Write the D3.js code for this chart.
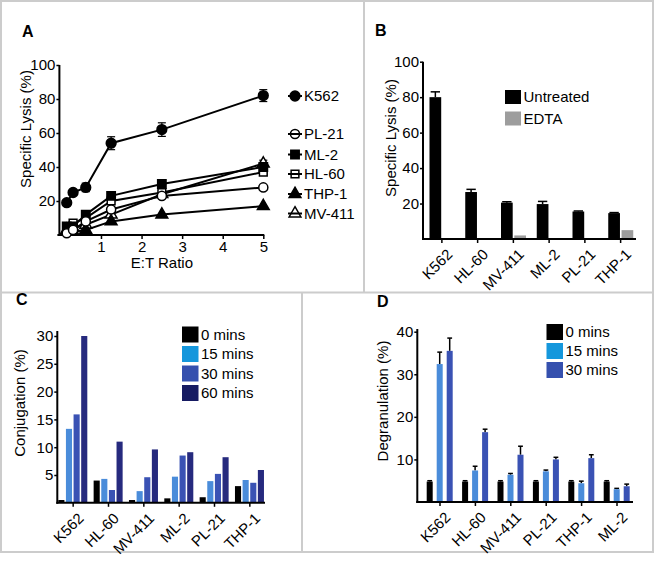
<!DOCTYPE html>
<html>
<head>
<meta charset="utf-8">
<script src="https://cdn.jsdelivr.net/npm/d3@7"></script>
<style>
  html, body { margin: 0; padding: 0; background: #fff; }
  svg { display: block; font-family: "Liberation Sans", Arial, Helvetica, sans-serif; }
</style>
</head>
<body>
<svg id="chart" width="656" height="562"></svg>
<script>
// ---------------- DATA ----------------
// Panel A: specific lysis vs E:T ratio
const etRatios = [0.156, 0.3125, 0.625, 1.25, 2.5, 5];
const lysisSeriesNames = ["K562", "PL-21", "ML-2", "HL-60", "THP-1", "MV-411"];
const lysisK562  = [19, 25, 28, 54, 62, 82];
const lysisPL21  = [1, 3, 8, 15, 23, 28];
const lysisML2   = [5, 5, 12, 23, 30, 40];
const lysisHL60  = [4, 7, 10, 20, 25, 37];
const lysisTHP1  = [3, 2, 3, 8, 12, 17];
const lysisMV411 = [2, 4, 6, 12, 24, 42];
const errK562  = [1, 1.5, 2.5, 3.8, 4, 3.5];
const errPL21  = [0.5, 0.5, 1, 1, 1, 1];
const errML2   = [0.5, 0.5, 1, 1, 1, 1.5];
const errHL60  = [0.5, 0.5, 1, 1, 1, 1];
const errTHP1  = [0.5, 0.5, 0.5, 1, 1, 1];
const errMV411 = [0.5, 0.5, 0.5, 1, 1, 2];
const xTicksA = [1, 2, 3, 4, 5];
const yTicksA = [20, 40, 60, 80, 100];

// Panel B: specific lysis, untreated vs EDTA
const cellLinesB = ["K562", "HL-60", "MV-411", "ML-2", "PL-21", "THP-1"];
const seriesB = ["Untreated", "EDTA"];
const untreatedB = [80, 26.5, 20.5, 19.7, 15.5, 14.6];
const untreatedErrB = [3, 1.5, 0.5, 1.5, 0.3, 0.3];
const edtaB = [0.4, 0, 2, 0, 0, 5];
const edtaErrB = [0, 0, 0, 0, 0, 0];
const yTicksB = [20, 40, 60, 80, 100];

// Panel C: conjugation
const cellLinesC = ["K562", "HL-60", "MV-411", "ML-2", "PL-21", "THP-1"];
const seriesC = ["0 mins", "15 mins", "30 mins", "60 mins"];
const conj0  = [0.5, 4.0, 0.5, 0.8, 1.0, 3.0];
const conj15 = [13.3, 4.3, 2.1, 4.7, 3.9, 4.1];
const conj30 = [15.9, 2.3, 4.6, 8.5, 5.2, 3.6];
const conj60 = [30, 11, 9.6, 9.1, 8.2, 5.9];
const yTicksC = [5, 10, 15, 20, 25, 30];

// Panel D: degranulation
const cellLinesD = ["K562", "HL-60", "MV-411", "PL-21", "THP-1", "ML-2"];
const seriesD = ["0 mins", "15 mins", "30 mins"];
const degr0  = [4.8, 4.8, 4.8, 4.8, 4.8, 4.8];
const degr15 = [32.4, 7.4, 6.4, 7.2, 4.4, 3.0];
const degr30 = [35.5, 16.4, 11.1, 10.0, 10.3, 3.7];
const degrErr0  = [0.2, 0.2, 0.2, 0.2, 0.2, 0.2];
const degrErr15 = [2.8, 1.0, 0.3, 0.3, 0.5, 0.2];
const degrErr30 = [3.0, 0.7, 2.0, 0.5, 0.8, 0.5];
const yTicksD = [10, 20, 30, 40];

// ---------------- DRAWING ----------------
const svg = d3.select("#chart");
const FONT = 15;
const BORDER = "#cccccc";

// panel frames
svg.append("rect").attr("x", 1).attr("y", 1).attr("width", 652).attr("height", 551)
  .attr("fill", "none").attr("stroke", BORDER).attr("stroke-width", 2);
svg.append("line").attr("x1", 0).attr("x2", 654).attr("y1", 292.5).attr("y2", 292.5)
  .attr("stroke", BORDER).attr("stroke-width", 2);
svg.append("line").attr("x1", 364).attr("x2", 364).attr("y1", 0).attr("y2", 292.5)
  .attr("stroke", BORDER).attr("stroke-width", 2);
svg.append("line").attr("x1", 302).attr("x2", 302).attr("y1", 292.5).attr("y2", 553)
  .attr("stroke", BORDER).attr("stroke-width", 2);

function panelLabel(t, x, y) {
  svg.append("text").attr("x", x).attr("y", y).attr("font-size", 16)
    .attr("font-weight", "bold").text(t);
}
function yLabel(t, x, y) {
  svg.append("text").attr("transform", `translate(${x},${y}) rotate(-90)`)
    .attr("text-anchor", "middle").attr("font-size", FONT).text(t);
}
function styleAxis(g) {
  g.select(".domain").remove();
  g.selectAll(".tick line").attr("stroke", "#000").attr("stroke-width", 1.5);
  g.selectAll(".tick text").attr("font-size", FONT).attr("font-family", null).attr("fill", "#000");
}

// ---------- Panel A ----------
panelLabel("A", 22, 37);
const xA = d3.scaleLinear().domain([0, 5]).range([60.4, 263.3]);
const yA = d3.scaleLinear().domain([0, 100]).range([235, 65]);
const gAy = svg.append("g").attr("transform", `translate(${xA(0) - 1},0)`)
  .call(d3.axisLeft(yA).tickValues(yTicksA).tickSize(3).tickPadding(1));
styleAxis(gAy);
const gAx = svg.append("g").attr("transform", `translate(0,${yA(0)})`)
  .call(d3.axisBottom(xA).tickValues(xTicksA).tickFormat(d3.format("d")).tickSize(4).tickPadding(2));
styleAxis(gAx);
svg.append("line").attr("x1", xA(0) - 1).attr("x2", xA(0) - 1).attr("y1", yA(100)).attr("y2", yA(0) + 1)
  .attr("stroke", "#000").attr("stroke-width", 2);
svg.append("line").attr("x1", xA(0) - 3).attr("x2", xA(5) + 1).attr("y1", yA(0)).attr("y2", yA(0))
  .attr("stroke", "#000").attr("stroke-width", 2);
svg.append("text").attr("x", (xA(0) + xA(5)) / 2).attr("y", 267.5).attr("text-anchor", "middle")
  .attr("font-size", FONT).text("E:T Ratio");
yLabel("Specific Lysis (%)", 31, 129);

const seriesA = [
  { name: "MV-411", vals: lysisMV411, err: errMV411, sym: d3.symbolTriangle, fill: false, size: 60 },
  { name: "THP-1",  vals: lysisTHP1,  err: errTHP1,  sym: d3.symbolTriangle, fill: true,  size: 60 },
  { name: "HL-60",  vals: lysisHL60,  err: errHL60,  sym: d3.symbolSquare,   fill: false, size: 60 },
  { name: "ML-2",   vals: lysisML2,   err: errML2,   sym: d3.symbolSquare,   fill: true,  size: 70 },
  { name: "PL-21",  vals: lysisPL21,  err: errPL21,  sym: d3.symbolCircle,   fill: false, size: 65 },
  { name: "K562",   vals: lysisK562,  err: errK562,  sym: d3.symbolCircle,   fill: true,  size: 75 }
];
const lineA = d3.line().x((d) => xA(d[0])).y((d) => yA(d[1]));
seriesA.forEach((s) => {
  const pts = etRatios.map((x, i) => [x, s.vals[i], s.err[i]]);
  const g = svg.append("g");
  g.append("path").attr("d", lineA(pts)).attr("fill", "none").attr("stroke", "#000").attr("stroke-width", 2);
  pts.forEach((p) => {
    if (p[2] > 1.2) {
      const cx = xA(p[0]);
      g.append("line").attr("x1", cx).attr("x2", cx).attr("y1", yA(p[1] - p[2])).attr("y2", yA(p[1] + p[2]))
        .attr("stroke", "#000").attr("stroke-width", 1.2);
      [p[1] - p[2], p[1] + p[2]].forEach((v) => {
        g.append("line").attr("x1", cx - 4).attr("x2", cx + 4).attr("y1", yA(v)).attr("y2", yA(v))
          .attr("stroke", "#000").attr("stroke-width", 1.2);
      });
    }
    g.append("path").attr("d", d3.symbol().type(s.sym).size(s.size)())
      .attr("transform", `translate(${xA(p[0])},${yA(p[1])})`)
      .attr("fill", s.fill ? "#000" : "#fff").attr("stroke", "#000").attr("stroke-width", 1.5);
  });
});
// legend A
const legendYA = [96, 134, 154.5, 174, 194, 213.5];
lysisSeriesNames.forEach((name, i) => {
  const s = seriesA.find((d) => d.name === name);
  const y = legendYA[i];
  const g = svg.append("g");
  g.append("path").attr("d", d3.symbol().type(s.sym).size(s.size)())
    .attr("transform", `translate(295,${y})`)
    .attr("fill", s.fill ? "#000" : "none").attr("stroke", "#000").attr("stroke-width", 1.5);
  g.append("line").attr("x1", 288).attr("x2", 302).attr("y1", y).attr("y2", y)
    .attr("stroke", "#000").attr("stroke-width", 2);
  g.append("text").attr("x", 304).attr("y", y).attr("dy", "0.36em").attr("font-size", FONT).text(name);
});

// ---------- generic grouped bar panel ----------
function barPanel(opt) {
  const x = d3.scaleBand().domain(opt.categories).range(opt.xRange);
  const sub = d3.scaleBand().domain(opt.series).range(opt.subRange).paddingInner(opt.subPad);
  const y = d3.scaleLinear().domain(opt.yDomain).range(opt.yRange);
  const gy = svg.append("g").attr("transform", `translate(${opt.axisX},0)`)
    .call(d3.axisLeft(y).tickValues(opt.yTicks).tickSize(3).tickPadding(1));
  styleAxis(gy);
  const gx = svg.append("g").attr("transform", `translate(0,${y(0)})`)
    .call(d3.axisBottom(x).tickSize(4).tickFormat(""));
  styleAxis(gx);
  gx.selectAll(".tick text").remove();
  // rotated category labels
  opt.categories.forEach((c) => {
    const cx = x(c) + x.bandwidth() / 2;
    svg.append("text").attr("transform", `translate(${cx + 4},${y(0) + 9}) rotate(-45)`)
      .attr("text-anchor", "end").attr("dy", "0.7em").attr("font-size", FONT).text(c);
  });
  const g = svg.append("g");
  opt.series.forEach((s, si) => {
    opt.categories.forEach((c, ci) => {
      const v = opt.values[si][ci];
      const bx = x(c) + sub(s);
      const bw = sub.bandwidth();
      const e = opt.errors ? opt.errors[si][ci] : 0;
      if (e > 0) {
        const cx = bx + bw / 2;
        g.append("line").attr("x1", cx).attr("x2", cx).attr("y1", y(v)).attr("y2", y(v + e))
          .attr("stroke", "#000").attr("stroke-width", 1.5);
        g.append("line").attr("x1", cx - bw * 0.4).attr("x2", cx + bw * 0.4).attr("y1", y(v + e)).attr("y2", y(v + e))
          .attr("stroke", "#000").attr("stroke-width", 1.5);
      }
      if (v > 0) {
        g.append("rect").attr("x", bx).attr("width", bw).attr("y", y(v)).attr("height", y(0) - y(v))
          .attr("fill", opt.colors[si]);
      }
    });
  });
  // axis lines
  svg.append("line").attr("x1", opt.axisX).attr("x2", opt.axisX).attr("y1", opt.yTop).attr("y2", y(0) + 1)
    .attr("stroke", "#000").attr("stroke-width", 2);
  svg.append("line").attr("x1", opt.axisX - 1).attr("x2", opt.xEnd).attr("y1", y(0)).attr("y2", y(0))
    .attr("stroke", "#000").attr("stroke-width", 2);
  // legend
  opt.series.forEach((s, si) => {
    const ly = opt.legend.y + si * opt.legend.step;
    svg.append("rect").attr("x", opt.legend.x).attr("y", ly).attr("width", opt.legend.w).attr("height", opt.legend.h)
      .attr("fill", opt.legendColors[si]);
    svg.append("text").attr("x", opt.legend.x + opt.legend.w + 2.5).attr("y", ly + opt.legend.h / 2)
      .attr("dy", "0.36em").attr("font-size", FONT).text(s);
  });
}

// ---------- Panel B ----------
panelLabel("B", 375, 36);
yLabel("Specific Lysis (%)", 396, 138);
barPanel({
  categories: cellLinesB, series: seriesB,
  values: [untreatedB, edtaB], errors: [untreatedErrB, edtaErrB],
  colors: ["#000000", "#9d9d9d"], legendColors: ["#000000", "#9d9d9d"],
  xRange: [424, 638.5], subRange: [5.5, 30.5], subPad: 0.12,
  yDomain: [0, 100], yRange: [239, 61.7], yTicks: yTicksB,
  axisX: 423, yTop: 61.7, xEnd: 636,
  legend: { x: 505, y: 90, w: 16, h: 14, step: 21.5 }
});

// ---------- Panel C ----------
panelLabel("C", 16, 305);
yLabel("Conjugation (%)", 25, 403);
barPanel({
  categories: cellLinesC, series: seriesC,
  values: [conj0, conj15, conj30, conj60], errors: null,
  colors: ["#000000", "#4a8cda", "#3a52b4", "#262a7e"],
  legendColors: ["#000000", "#1597dc", "#3550ae", "#161b62"],
  xRange: [55.5, 267.5], subRange: [2.8, 31.8], subPad: 0.2,
  yDomain: [0, 30], yRange: [502.8, 336], yTicks: yTicksC,
  axisX: 57.3, yTop: 331, xEnd: 265,
  legend: { x: 182, y: 326.5, w: 16.5, h: 16, step: 19.5 }
});

// ---------- Panel D ----------
panelLabel("D", 377, 307);
yLabel("Degranulation (%)", 388, 401);
barPanel({
  categories: cellLinesD, series: seriesD,
  values: [degr0, degr15, degr30], errors: [degrErr0, degrErr15, degrErr30],
  colors: ["#000000", "#4a8cda", "#3a52b4"],
  legendColors: ["#000000", "#1597dc", "#3550ae"],
  xRange: [422.3, 634.7], subRange: [4.4, 30.4], subPad: 0.4,
  yDomain: [0, 40], yRange: [502, 331.7], yTicks: yTicksD,
  axisX: 417.3, yTop: 329, xEnd: 633,
  legend: { x: 546.5, y: 324, w: 16.5, h: 16, step: 19 }
});
</script>
</body>
</html>
